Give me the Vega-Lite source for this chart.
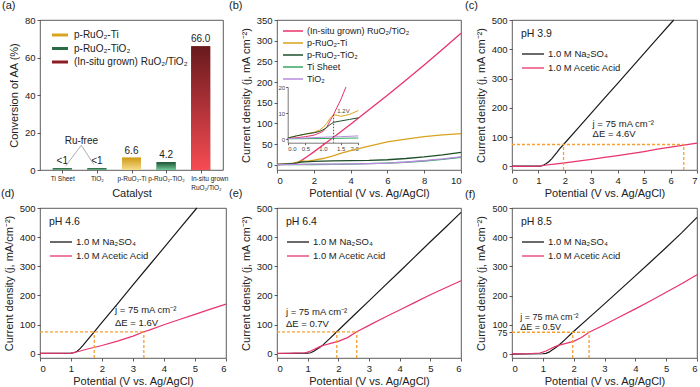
{
"$schema":"https://vega.github.io/schema/vega-lite/v6.json",
"padding":{"left":0,"top":-1,"right":0,"bottom":0},
"background":"white",
"config":{
 "font":"Liberation Sans",
 "view":{"stroke":"#333","strokeWidth":0.8},
 "axis":{"grid":false,"domain":false,"tickSize":3,"tickColor":"#333","tickWidth":0.8,"labelFontSize":9.5,"labelColor":"#222","labelPadding":2,"labelOverlap":false,"titleFontSize":11,"titleFontWeight":"normal","titleColor":"#222"},
 "axisY":{"titlePadding":5},
 "axisX":{"titlePadding":3},
 "title":{"anchor":"start","frame":"group","fontSize":11,"fontWeight":"normal","offset":0,"color":"#222"},
 "legend":{"orient":"top-left","labelFontSize":9.5,"labelColor":"#222","titleFontWeight":"normal","titleColor":"#222","padding":0}
},
"datasets":{
 "bars":[
  {"pos":1,"val":0.9,"grp":"p-RuO₂-TiO₂","c":"green","lab":"<1"},
  {"pos":2,"val":0.9,"grp":"p-RuO₂-TiO₂","c":"green","lab":"<1"},
  {"pos":3,"val":6.6,"grp":"p-RuO₂-Ti","c":"gold","lab":"6.6"},
  {"pos":4,"val":4.2,"grp":"p-RuO₂-TiO₂","c":"green","lab":"4.2"},
  {"pos":5,"val":66.0,"grp":"(In-situ grown) RuO₂/TiO₂","c":"red","lab":"66.0"}
 ]
},
"columns":3,
"spacing":{"row":38,"column":51},
"bounds":"flush",
"resolve":{"scale":{"color":"independent","fill":"independent"},"legend":{"color":"independent","fill":"independent"}},
"concat":[
 {
  "width":183,"height":150,
  "title":{"text":"(a)","dx":-38},
  "encoding":{
   "x":{"field":"pos","type":"quantitative","scale":{"domain":[0.5,5.5],"nice":false},"axis":{"values":[1,2,3,4,5],"title":"Catalyst","labelOverlap":false,"labelExpr":"['', 'Ti Sheet', 'TiO₂', 'p-RuO₂-Ti', 'p-RuO₂-TiO₂', ['In-situ grown', 'RuO₂/TiO₂']][datum.value]","labelFontSize":6.5,"labelLineHeight":9,"labelAlign":{"condition":{"test":"datum.value == 5","value":"left"},"value":"center"},"labelOffset":{"condition":{"test":"datum.value == 5","value":-10},"value":0},"titlePadding":-3}},
   "y":{"field":"val","type":"quantitative","scale":{"domain":[0,80],"nice":false},"axis":{"values":[0,20,40,60,80],"labelOverlap":false,"title":"Conversion of AA (%)"}}
  },
  "layer":[
   {"data":{"name":"bars"},"mark":{"type":"bar","size":19},
    "encoding":{
     "fill":{"field":"grp","type":"nominal","scale":{"domain":["p-RuO₂-Ti","p-RuO₂-TiO₂","(In-situ grown) RuO₂/TiO₂"],"range":["#d9a520","#2a6a44","#8e1c22"]},"legend":{"title":null,"offset":10,"symbolType":"M-1,-0.5H4.33V0.5H-1Z","symbolSize":36,"labelOffset":14,"rowPadding":3.5,"labelFontSize":10}}
    }},
   {"data":{"name":"bars"},"transform":[{"filter":"datum.c == 'gold'"}],
    "mark":{"type":"bar","size":19,"fill":{"gradient":"linear","x1":0,"y1":0,"x2":0,"y2":1,"stops":[{"offset":0,"color":"#cf9a16"},{"offset":1,"color":"#f6dc8e"}]}}},
   {"data":{"name":"bars"},"transform":[{"filter":"datum.c == 'green'"}],
    "mark":{"type":"bar","size":19,"fill":{"gradient":"linear","x1":0,"y1":0,"x2":0,"y2":1,"stops":[{"offset":0,"color":"#1b5532"},{"offset":1,"color":"#74c99a"}]}}},
   {"data":{"name":"bars"},"transform":[{"filter":"datum.c == 'red'"}],
    "mark":{"type":"bar","size":19,"fill":{"gradient":"linear","x1":0,"y1":0,"x2":0,"y2":1,"stops":[{"offset":0,"color":"#681a1d"},{"offset":1,"color":"#f74b53"}]}}},
   {"data":{"name":"bars"},"mark":{"type":"text","baseline":"bottom","dy":-2,"fontSize":10,"color":"#222"},
    "encoding":{"text":{"field":"lab"}}},
   {"data":{"values":[{"pos":1.55,"val":15.6,"t":"Ru-free"}]},"mark":{"type":"text","fontSize":10,"color":"#222"},
    "encoding":{"text":{"field":"t"}}},
   {"data":{"values":[{"pos":1.55,"val":13.2,"pos2":1.09,"val2":2.0},{"pos":1.55,"val":13.2,"pos2":1.91,"val2":3.0}]},
    "mark":{"type":"rule","color":"#999","strokeWidth":0.8},
    "encoding":{"x2":{"field":"pos2"},"y2":{"field":"val2"}}}
  ]
 },
 {
  "width":184,"height":150,
  "title":{"text":"(b)","dx":-48},
  "layer":[
   {"data":{"values":[
     {"s":"(In-situ grown) RuO₂/TiO₂","x":0,"y":0.3},{"s":"(In-situ grown) RuO₂/TiO₂","x":0.5,"y":1},{"s":"(In-situ grown) RuO₂/TiO₂","x":1.0,"y":3},{"s":"(In-situ grown) RuO₂/TiO₂","x":1.2,"y":7},{"s":"(In-situ grown) RuO₂/TiO₂","x":1.4,"y":12.3},{"s":"(In-situ grown) RuO₂/TiO₂","x":1.65,"y":20},{"s":"(In-situ grown) RuO₂/TiO₂","x":2,"y":31},{"s":"(In-situ grown) RuO₂/TiO₂","x":3,"y":64},{"s":"(In-situ grown) RuO₂/TiO₂","x":4,"y":98},{"s":"(In-situ grown) RuO₂/TiO₂","x":5,"y":133},{"s":"(In-situ grown) RuO₂/TiO₂","x":6,"y":168},{"s":"(In-situ grown) RuO₂/TiO₂","x":7,"y":204},{"s":"(In-situ grown) RuO₂/TiO₂","x":8,"y":241},{"s":"(In-situ grown) RuO₂/TiO₂","x":9,"y":279},{"s":"(In-situ grown) RuO₂/TiO₂","x":10,"y":318},
     {"s":"p-RuO₂-Ti","x":0,"y":0.5},{"s":"p-RuO₂-Ti","x":0.5,"y":2},{"s":"p-RuO₂-Ti","x":0.9,"y":3.5},{"s":"p-RuO₂-Ti","x":1.1,"y":6},{"s":"p-RuO₂-Ti","x":1.3,"y":9.4},{"s":"p-RuO₂-Ti","x":1.5,"y":8.8},{"s":"p-RuO₂-Ti","x":1.75,"y":9.5},{"s":"p-RuO₂-Ti","x":2,"y":11},{"s":"p-RuO₂-Ti","x":2.5,"y":15},{"s":"p-RuO₂-Ti","x":3,"y":21},{"s":"p-RuO₂-Ti","x":3.5,"y":28},{"s":"p-RuO₂-Ti","x":4,"y":34},{"s":"p-RuO₂-Ti","x":5,"y":45},{"s":"p-RuO₂-Ti","x":6,"y":55},{"s":"p-RuO₂-Ti","x":7,"y":62},{"s":"p-RuO₂-Ti","x":8,"y":68},{"s":"p-RuO₂-Ti","x":9,"y":72},{"s":"p-RuO₂-Ti","x":10,"y":75},
     {"s":"p-RuO₂-TiO₂","x":0,"y":0.5},{"s":"p-RuO₂-TiO₂","x":0.5,"y":2},{"s":"p-RuO₂-TiO₂","x":0.9,"y":3},{"s":"p-RuO₂-TiO₂","x":1.1,"y":4.5},{"s":"p-RuO₂-TiO₂","x":1.3,"y":6.5},{"s":"p-RuO₂-TiO₂","x":1.5,"y":7},{"s":"p-RuO₂-TiO₂","x":2,"y":8.2},{"s":"p-RuO₂-TiO₂","x":3,"y":9.5},{"s":"p-RuO₂-TiO₂","x":4,"y":10},{"s":"p-RuO₂-TiO₂","x":5,"y":10.5},{"s":"p-RuO₂-TiO₂","x":6,"y":12},{"s":"p-RuO₂-TiO₂","x":7,"y":15},{"s":"p-RuO₂-TiO₂","x":8,"y":19},{"s":"p-RuO₂-TiO₂","x":9,"y":24},{"s":"p-RuO₂-TiO₂","x":10,"y":30},
     {"s":"Ti Sheet","x":0,"y":0.2},{"s":"Ti Sheet","x":1,"y":0.3},{"s":"Ti Sheet","x":2,"y":0.5},{"s":"Ti Sheet","x":3,"y":1},{"s":"Ti Sheet","x":4,"y":1.5},{"s":"Ti Sheet","x":5,"y":2.5},{"s":"Ti Sheet","x":6,"y":4},{"s":"Ti Sheet","x":7,"y":6},{"s":"Ti Sheet","x":8,"y":9},{"s":"Ti Sheet","x":9,"y":13},{"s":"Ti Sheet","x":10,"y":18},
     {"s":"TiO₂","x":0,"y":0.3},{"s":"TiO₂","x":1,"y":0.8},{"s":"TiO₂","x":2,"y":1.3},{"s":"TiO₂","x":3,"y":1.6},{"s":"TiO₂","x":4,"y":2},{"s":"TiO₂","x":5,"y":2.6},{"s":"TiO₂","x":6,"y":4},{"s":"TiO₂","x":7,"y":6.5},{"s":"TiO₂","x":8,"y":10},{"s":"TiO₂","x":9,"y":14},{"s":"TiO₂","x":10,"y":19}
    ]},
    "mark":{"type":"line","strokeWidth":1.3},
    "encoding":{
     "x":{"field":"x","type":"quantitative","scale":{"domain":[0,10],"nice":false},"axis":{"orient":"bottom","values":[0,2,4,6,8,10],"labelOverlap":false,"title":"Potential (V vs. Ag/AgCl)"}},
     "y":{"field":"y","type":"quantitative","scale":{"domain":[-12.8,350],"nice":false},"axis":{"orient":"left","values":[0,50,100,150,200,250,300,350],"labelOverlap":false,"title":"Current density (j, mA cm⁻²)"}},
     "color":{"field":"s","type":"nominal","scale":{"domain":["(In-situ grown) RuO₂/TiO₂","p-RuO₂-Ti","p-RuO₂-TiO₂","Ti Sheet","TiO₂"],"range":["#e8336b","#d9a21c","#1f4f2a","#34a862","#b98be0"]},"legend":{"title":null,"offset":5,"symbolType":"M-1,0H3","symbolSize":100,"symbolStrokeWidth":1.5,"labelOffset":13,"rowPadding":1,"labelFontSize":9}}
    }},
   {"layer":[
     {"data":{"values":[
       {"s":"(In-situ grown) RuO₂/TiO₂","x":0,"y":0.3},{"s":"(In-situ grown) RuO₂/TiO₂","x":0.25,"y":0.6},{"s":"(In-situ grown) RuO₂/TiO₂","x":0.5,"y":1},{"s":"(In-situ grown) RuO₂/TiO₂","x":0.75,"y":1.6},{"s":"(In-situ grown) RuO₂/TiO₂","x":1.0,"y":3},{"s":"(In-situ grown) RuO₂/TiO₂","x":1.1,"y":4.5},{"s":"(In-situ grown) RuO₂/TiO₂","x":1.2,"y":7},{"s":"(In-situ grown) RuO₂/TiO₂","x":1.3,"y":9.5},{"s":"(In-situ grown) RuO₂/TiO₂","x":1.4,"y":12.3},{"s":"(In-situ grown) RuO₂/TiO₂","x":1.5,"y":15},{"s":"(In-situ grown) RuO₂/TiO₂","x":1.65,"y":20},
       {"s":"p-RuO₂-Ti","x":0,"y":0.5},{"s":"p-RuO₂-Ti","x":0.25,"y":1.3},{"s":"p-RuO₂-Ti","x":0.5,"y":2},{"s":"p-RuO₂-Ti","x":0.75,"y":2.7},{"s":"p-RuO₂-Ti","x":0.9,"y":3.5},{"s":"p-RuO₂-Ti","x":1.0,"y":4.5},{"s":"p-RuO₂-Ti","x":1.1,"y":6},{"s":"p-RuO₂-Ti","x":1.2,"y":8},{"s":"p-RuO₂-Ti","x":1.3,"y":9.4},{"s":"p-RuO₂-Ti","x":1.4,"y":9.2},{"s":"p-RuO₂-Ti","x":1.5,"y":8.8},{"s":"p-RuO₂-Ti","x":1.75,"y":9.5},{"s":"p-RuO₂-Ti","x":2,"y":11},
       {"s":"p-RuO₂-TiO₂","x":0,"y":0.5},{"s":"p-RuO₂-TiO₂","x":0.25,"y":1.3},{"s":"p-RuO₂-TiO₂","x":0.5,"y":2},{"s":"p-RuO₂-TiO₂","x":0.75,"y":2.5},{"s":"p-RuO₂-TiO₂","x":0.9,"y":3},{"s":"p-RuO₂-TiO₂","x":1.0,"y":3.6},{"s":"p-RuO₂-TiO₂","x":1.1,"y":4.5},{"s":"p-RuO₂-TiO₂","x":1.2,"y":5.6},{"s":"p-RuO₂-TiO₂","x":1.3,"y":6.5},{"s":"p-RuO₂-TiO₂","x":1.5,"y":7},{"s":"p-RuO₂-TiO₂","x":1.75,"y":7.6},{"s":"p-RuO₂-TiO₂","x":2,"y":8.2},
       {"s":"Ti Sheet","x":0,"y":0.2},{"s":"Ti Sheet","x":1,"y":0.3},{"s":"Ti Sheet","x":2,"y":0.5},
       {"s":"TiO₂","x":0,"y":0.3},{"s":"TiO₂","x":0.5,"y":0.5},{"s":"TiO₂","x":1,"y":0.8},{"s":"TiO₂","x":1.5,"y":1.0},{"s":"TiO₂","x":2,"y":1.3}
      ]},
      "mark":{"type":"line","strokeWidth":1},
      "encoding":{
       "x":{"field":"x","type":"quantitative","scale":{"domain":[0,2],"range":[10.7,81.3],"nice":false},"axis":{"orient":"bottom","offset":-27.3,"values":[0,0.5,1,1.5,2],"labelOverlap":false,"format":".1f","title":null,"domain":true,"domainColor":"#555","domainWidth":0.8,"tickSize":2,"labelFontSize":6,"labelPadding":1,"labelColor":"#444"}},
       "y":{"field":"y","type":"quantitative","scale":{"domain":[-1.3,20],"range":[122.7,67],"nice":false},"axis":{"orient":"left","offset":-10.7,"values":[0,5,10,15,20],"labelOverlap":false,"title":null,"domain":true,"domainColor":"#555","domainWidth":0.8,"tickSize":2,"labelFontSize":6,"labelPadding":1,"labelColor":"#444"}},
       "color":{"field":"s","type":"nominal","legend":null}
      }},
     {"data":{"values":[{"x":1.3,"y":9.4,"y2":-1.3}]},"mark":{"type":"rule","strokeDash":[1.5,1.5],"color":"#222","strokeWidth":0.8},
      "encoding":{"x":{"field":"x","type":"quantitative"},"y":{"field":"y","type":"quantitative"},"y2":{"field":"y2"}}},
     {"data":{"values":[{"x":1.58,"y":11,"t":"1.2V"}]},"mark":{"type":"text","fontSize":6,"color":"#444"},
      "encoding":{"x":{"field":"x","type":"quantitative"},"y":{"field":"y","type":"quantitative"},"text":{"field":"t"}}}
    ]}
  ],
  "resolve":{"scale":{"x":"independent","y":"independent"},"axis":{"x":"independent","y":"independent"}}
 },
 {
  "width":185,"height":150,
  "title":{"text":"(c)","dx":-47},
  "encoding":{
   "x":{"field":"x","type":"quantitative","scale":{"domain":[0,7],"nice":false},"axis":{"values":[0,1,2,3,4,5,6,7],"labelOverlap":false,"title":"Potential (V vs. Ag/AgCl)"}},
   "y":{"field":"y","type":"quantitative","scale":{"domain":[-12,500],"nice":false},"axis":{"values":[0,100,200,300,400,500],"labelOverlap":false,"title":"Current density (j, mA cm⁻²)"}}
  },
  "layer":[
   {"data":{"values":[
     {"s":"1.0 M Na₂SO₄","x":0,"y":1},{"s":"1.0 M Na₂SO₄","x":0.5,"y":1},{"s":"1.0 M Na₂SO₄","x":1.0,"y":1.5},{"s":"1.0 M Na₂SO₄","x":1.1,"y":2},{"s":"1.0 M Na₂SO₄","x":1.2,"y":5},{"s":"1.0 M Na₂SO₄","x":1.3,"y":10},{"s":"1.0 M Na₂SO₄","x":1.4,"y":17},{"s":"1.0 M Na₂SO₄","x":1.5,"y":26},{"s":"1.0 M Na₂SO₄","x":1.6,"y":37},{"s":"1.0 M Na₂SO₄","x":1.7,"y":48},{"s":"1.0 M Na₂SO₄","x":1.8,"y":60},{"s":"1.0 M Na₂SO₄","x":1.95,"y":75},{"s":"1.0 M Na₂SO₄","x":2.5,"y":131},{"s":"1.0 M Na₂SO₄","x":3,"y":182},{"s":"1.0 M Na₂SO₄","x":3.5,"y":233},{"s":"1.0 M Na₂SO₄","x":4,"y":284},{"s":"1.0 M Na₂SO₄","x":4.5,"y":335},{"s":"1.0 M Na₂SO₄","x":5,"y":386},{"s":"1.0 M Na₂SO₄","x":5.5,"y":437},{"s":"1.0 M Na₂SO₄","x":6,"y":488},{"s":"1.0 M Na₂SO₄","x":6.12,"y":500},
     {"s":"1.0 M Acetic Acid","x":0,"y":0.5},{"s":"1.0 M Acetic Acid","x":1.0,"y":1},{"s":"1.0 M Acetic Acid","x":1.1,"y":2},{"s":"1.0 M Acetic Acid","x":1.3,"y":5},{"s":"1.0 M Acetic Acid","x":1.6,"y":8},{"s":"1.0 M Acetic Acid","x":2,"y":12},{"s":"1.0 M Acetic Acid","x":2.5,"y":18},{"s":"1.0 M Acetic Acid","x":3,"y":24},{"s":"1.0 M Acetic Acid","x":3.5,"y":31},{"s":"1.0 M Acetic Acid","x":4,"y":37},{"s":"1.0 M Acetic Acid","x":4.5,"y":44},{"s":"1.0 M Acetic Acid","x":5,"y":51},{"s":"1.0 M Acetic Acid","x":5.5,"y":59},{"s":"1.0 M Acetic Acid","x":6,"y":66},{"s":"1.0 M Acetic Acid","x":6.5,"y":73},{"s":"1.0 M Acetic Acid","x":7,"y":80}
    ]},
    "mark":{"type":"line","strokeWidth":1.2},
    "encoding":{
     "color":{"field":"s","type":"nominal","scale":{"domain":["1.0 M Na₂SO₄","1.0 M Acetic Acid"],"range":["#1a1a1a","#e8336b"]},"legend":{"title":"pH 3.9","offset":9,"titleFontSize":10.5,"titlePadding":8,"symbolType":"M-1,0H3","symbolSize":121,"symbolStrokeWidth":1.3,"labelOffset":14,"rowPadding":3}}
    }},
   {"data":{"values":[{"x":0,"x2":6.5,"y":75,"y2":75},{"x":1.95,"x2":1.95,"y":-12,"y2":75},{"x":6.5,"x2":6.5,"y":-12,"y2":75}]},
    "mark":{"type":"rule","color":"#f5a030","strokeDash":[3,2],"strokeWidth":1.3},
    "encoding":{"x2":{"field":"x2"},"y2":{"field":"y2"}}},
   {"data":{"values":[{"x":3.05,"y":146,"t":"j = 75 mA cm⁻²"},{"x":3.05,"y":110,"t":"ΔE = 4.6V"}]},
    "mark":{"type":"text","align":"left","baseline":"middle","fontSize":9.5,"color":"#222"},
    "encoding":{"text":{"field":"t"}}}
  ]
 },
 {
  "width":186,"height":150,
  "title":{"text":"(d)","dx":-39},
  "encoding":{
   "x":{"field":"x","type":"quantitative","scale":{"domain":[0,6],"nice":false},"axis":{"values":[0,1,2,3,4,5,6],"labelOverlap":false,"title":"Potential (V vs. Ag/AgCl)"}},
   "y":{"field":"y","type":"quantitative","scale":{"domain":[-15,500],"nice":false},"axis":{"values":[0,100,200,300,400,500],"labelOverlap":false,"title":"Current density (j, mA/cm⁻²)"}}
  },
  "layer":[
   {"data":{"values":[
     {"s":"1.0 M Na₂SO₄","x":0,"y":1},{"s":"1.0 M Na₂SO₄","x":1.0,"y":1.5},{"s":"1.0 M Na₂SO₄","x":1.1,"y":3},{"s":"1.0 M Na₂SO₄","x":1.2,"y":8},{"s":"1.0 M Na₂SO₄","x":1.3,"y":18},{"s":"1.0 M Na₂SO₄","x":1.4,"y":30},{"s":"1.0 M Na₂SO₄","x":1.5,"y":43},{"s":"1.0 M Na₂SO₄","x":1.6,"y":56},{"s":"1.0 M Na₂SO₄","x":1.75,"y":75},{"s":"1.0 M Na₂SO₄","x":2,"y":107},{"s":"1.0 M Na₂SO₄","x":2.5,"y":171},{"s":"1.0 M Na₂SO₄","x":3,"y":236},{"s":"1.0 M Na₂SO₄","x":3.5,"y":300},{"s":"1.0 M Na₂SO₄","x":4,"y":364},{"s":"1.0 M Na₂SO₄","x":4.5,"y":428},{"s":"1.0 M Na₂SO₄","x":5.06,"y":500},
     {"s":"1.0 M Acetic Acid","x":0,"y":1},{"s":"1.0 M Acetic Acid","x":1.0,"y":2},{"s":"1.0 M Acetic Acid","x":1.1,"y":4},{"s":"1.0 M Acetic Acid","x":1.3,"y":9},{"s":"1.0 M Acetic Acid","x":1.5,"y":15},{"s":"1.0 M Acetic Acid","x":2,"y":28},{"s":"1.0 M Acetic Acid","x":2.5,"y":43},{"s":"1.0 M Acetic Acid","x":3,"y":60},{"s":"1.0 M Acetic Acid","x":3.35,"y":75},{"s":"1.0 M Acetic Acid","x":3.5,"y":80},{"s":"1.0 M Acetic Acid","x":4,"y":99},{"s":"1.0 M Acetic Acid","x":4.5,"y":117},{"s":"1.0 M Acetic Acid","x":5,"y":135},{"s":"1.0 M Acetic Acid","x":5.5,"y":153},{"s":"1.0 M Acetic Acid","x":6,"y":170}
    ]},
    "mark":{"type":"line","strokeWidth":1.2},
    "encoding":{
     "color":{"field":"s","type":"nominal","scale":{"domain":["1.0 M Na₂SO₄","1.0 M Acetic Acid"],"range":["#1a1a1a","#e8336b"]},"legend":{"title":"pH 4.6","offset":9,"titleFontSize":10.5,"titlePadding":8,"symbolType":"M-1,0H3","symbolSize":121,"symbolStrokeWidth":1.3,"labelOffset":14,"rowPadding":3}}
    }},
   {"data":{"values":[{"x":0,"x2":3.35,"y":75,"y2":75},{"x":1.75,"x2":1.75,"y":-15,"y2":75},{"x":3.35,"x2":3.35,"y":-15,"y2":75}]},
    "mark":{"type":"rule","color":"#f5a030","strokeDash":[3,2],"strokeWidth":1.3},
    "encoding":{"x2":{"field":"x2"},"y2":{"field":"y2"}}},
   {"data":{"values":[{"x":2.42,"y":149,"t":"j = 75 mA cm⁻²"},{"x":2.42,"y":106,"t":"ΔE = 1.6V"}]},
    "mark":{"type":"text","align":"left","baseline":"middle","fontSize":9.5,"color":"#222"},
    "encoding":{"text":{"field":"t"}}}
  ]
 },
 {
  "width":184,"height":150,
  "title":{"text":"(e)","dx":-48},
  "encoding":{
   "x":{"field":"x","type":"quantitative","scale":{"domain":[0,6],"nice":false},"axis":{"values":[0,1,2,3,4,5,6],"labelOverlap":false,"title":"Potential (V vs. Ag/AgCl)"}},
   "y":{"field":"y","type":"quantitative","scale":{"domain":[-15,500],"nice":false},"axis":{"values":[0,100,200,300,400,500],"labelOverlap":false,"title":"Current density (j, mA cm⁻²)"}}
  },
  "layer":[
   {"data":{"values":[
     {"s":"1.0 M Na₂SO₄","x":0,"y":0.5},{"s":"1.0 M Na₂SO₄","x":1.0,"y":1.5},{"s":"1.0 M Na₂SO₄","x":1.1,"y":3},{"s":"1.0 M Na₂SO₄","x":1.2,"y":8},{"s":"1.0 M Na₂SO₄","x":1.3,"y":15},{"s":"1.0 M Na₂SO₄","x":1.4,"y":22},{"s":"1.0 M Na₂SO₄","x":1.5,"y":30},{"s":"1.0 M Na₂SO₄","x":1.7,"y":50},{"s":"1.0 M Na₂SO₄","x":1.95,"y":75},{"s":"1.0 M Na₂SO₄","x":2.5,"y":131},{"s":"1.0 M Na₂SO₄","x":3,"y":181},{"s":"1.0 M Na₂SO₄","x":3.5,"y":232},{"s":"1.0 M Na₂SO₄","x":4,"y":282},{"s":"1.0 M Na₂SO₄","x":4.5,"y":333},{"s":"1.0 M Na₂SO₄","x":5,"y":384},{"s":"1.0 M Na₂SO₄","x":5.5,"y":434},{"s":"1.0 M Na₂SO₄","x":6,"y":485},
     {"s":"1.0 M Acetic Acid","x":0,"y":1},{"s":"1.0 M Acetic Acid","x":0.5,"y":1.5},{"s":"1.0 M Acetic Acid","x":0.9,"y":3},{"s":"1.0 M Acetic Acid","x":1.0,"y":5},{"s":"1.0 M Acetic Acid","x":1.1,"y":9},{"s":"1.0 M Acetic Acid","x":1.2,"y":14},{"s":"1.0 M Acetic Acid","x":1.3,"y":19},{"s":"1.0 M Acetic Acid","x":1.4,"y":24},{"s":"1.0 M Acetic Acid","x":1.5,"y":28},{"s":"1.0 M Acetic Acid","x":1.75,"y":35},{"s":"1.0 M Acetic Acid","x":2,"y":42},{"s":"1.0 M Acetic Acid","x":2.3,"y":55},{"s":"1.0 M Acetic Acid","x":2.6,"y":75},{"s":"1.0 M Acetic Acid","x":3,"y":97},{"s":"1.0 M Acetic Acid","x":3.5,"y":124},{"s":"1.0 M Acetic Acid","x":4,"y":150},{"s":"1.0 M Acetic Acid","x":4.5,"y":176},{"s":"1.0 M Acetic Acid","x":5,"y":202},{"s":"1.0 M Acetic Acid","x":5.5,"y":226},{"s":"1.0 M Acetic Acid","x":6,"y":250}
    ]},
    "mark":{"type":"line","strokeWidth":1.2},
    "encoding":{
     "color":{"field":"s","type":"nominal","scale":{"domain":["1.0 M Na₂SO₄","1.0 M Acetic Acid"],"range":["#1a1a1a","#e8336b"]},"legend":{"title":"pH 6.4","offset":9,"titleFontSize":10.5,"titlePadding":8,"symbolType":"M-1,0H3","symbolSize":121,"symbolStrokeWidth":1.3,"labelOffset":14,"rowPadding":3}}
    }},
   {"data":{"values":[{"x":0,"x2":2.6,"y":75,"y2":75},{"x":1.95,"x2":1.95,"y":-15,"y2":75},{"x":2.6,"x2":2.6,"y":-15,"y2":75}]},
    "mark":{"type":"rule","color":"#f5a030","strokeDash":[3,2],"strokeWidth":1.3},
    "encoding":{"x2":{"field":"x2"},"y2":{"field":"y2"}}},
   {"data":{"values":[{"x":0.29,"y":143,"t":"j = 75 mA cm⁻²"},{"x":0.29,"y":103,"t":"ΔE = 0.7V"}]},
    "mark":{"type":"text","align":"left","baseline":"middle","fontSize":9.5,"color":"#222"},
    "encoding":{"text":{"field":"t"}}}
  ]
 },
 {
  "width":185,"height":150,
  "title":{"text":"(f)","dx":-47},
  "encoding":{
   "x":{"field":"x","type":"quantitative","scale":{"domain":[0,6],"nice":false},"axis":{"values":[0,1,2,3,4,5,6],"labelOverlap":false,"title":"Potential (V vs. Ag/AgCl)"}},
   "y":{"field":"y","type":"quantitative","scale":{"domain":[-13,500],"nice":false},"axis":{"values":[0,75,100,200,300,400,500],"labelOverlap":false,"labelFontSize":9,"title":"Current density (j, mA cm⁻²)"}}
  },
  "layer":[
   {"data":{"values":[
     {"s":"1.0 M Na₂SO₄","x":0,"y":0.5},{"s":"1.0 M Na₂SO₄","x":1.0,"y":1.5},{"s":"1.0 M Na₂SO₄","x":1.1,"y":3},{"s":"1.0 M Na₂SO₄","x":1.2,"y":7},{"s":"1.0 M Na₂SO₄","x":1.3,"y":14},{"s":"1.0 M Na₂SO₄","x":1.4,"y":21},{"s":"1.0 M Na₂SO₄","x":1.5,"y":29},{"s":"1.0 M Na₂SO₄","x":1.7,"y":48},{"s":"1.0 M Na₂SO₄","x":1.97,"y":75},{"s":"1.0 M Na₂SO₄","x":2.5,"y":125},{"s":"1.0 M Na₂SO₄","x":3,"y":172},{"s":"1.0 M Na₂SO₄","x":3.5,"y":220},{"s":"1.0 M Na₂SO₄","x":4,"y":268},{"s":"1.0 M Na₂SO₄","x":4.5,"y":316},{"s":"1.0 M Na₂SO₄","x":5,"y":365},{"s":"1.0 M Na₂SO₄","x":5.5,"y":415},{"s":"1.0 M Na₂SO₄","x":6,"y":468},
     {"s":"1.0 M Acetic Acid","x":0,"y":1},{"s":"1.0 M Acetic Acid","x":0.5,"y":1.5},{"s":"1.0 M Acetic Acid","x":0.9,"y":4},{"s":"1.0 M Acetic Acid","x":1.0,"y":7},{"s":"1.0 M Acetic Acid","x":1.1,"y":11},{"s":"1.0 M Acetic Acid","x":1.2,"y":16},{"s":"1.0 M Acetic Acid","x":1.3,"y":21},{"s":"1.0 M Acetic Acid","x":1.4,"y":26},{"s":"1.0 M Acetic Acid","x":1.5,"y":30},{"s":"1.0 M Acetic Acid","x":1.75,"y":37},{"s":"1.0 M Acetic Acid","x":2,"y":44},{"s":"1.0 M Acetic Acid","x":2.25,"y":57},{"s":"1.0 M Acetic Acid","x":2.5,"y":75},{"s":"1.0 M Acetic Acid","x":3,"y":101},{"s":"1.0 M Acetic Acid","x":3.5,"y":128},{"s":"1.0 M Acetic Acid","x":4,"y":155},{"s":"1.0 M Acetic Acid","x":4.5,"y":183},{"s":"1.0 M Acetic Acid","x":5,"y":212},{"s":"1.0 M Acetic Acid","x":5.5,"y":241},{"s":"1.0 M Acetic Acid","x":6,"y":272}
    ]},
    "mark":{"type":"line","strokeWidth":1.2},
    "encoding":{
     "color":{"field":"s","type":"nominal","scale":{"domain":["1.0 M Na₂SO₄","1.0 M Acetic Acid"],"range":["#1a1a1a","#e8336b"]},"legend":{"title":"pH 8.5","offset":9,"titleFontSize":10.5,"titlePadding":8,"symbolType":"M-1,0H3","symbolSize":121,"symbolStrokeWidth":1.3,"labelOffset":14,"rowPadding":3}}
    }},
   {"data":{"values":[{"x":0,"x2":2.5,"y":75,"y2":75},{"x":1.97,"x2":1.97,"y":-13,"y2":75},{"x":2.5,"x2":2.5,"y":-13,"y2":75}]},
    "mark":{"type":"rule","color":"#f5a030","strokeDash":[3,2],"strokeWidth":1.3},
    "encoding":{"x2":{"field":"x2"},"y2":{"field":"y2"}}},
   {"data":{"values":[{"x":0.27,"y":128,"t":"j = 75 mA cm⁻²"},{"x":0.27,"y":93,"t":"ΔE = 0.5V"}]},
    "mark":{"type":"text","align":"left","baseline":"middle","fontSize":9,"color":"#222"},
    "encoding":{"text":{"field":"t"}}}
  ]
 }
]
}
